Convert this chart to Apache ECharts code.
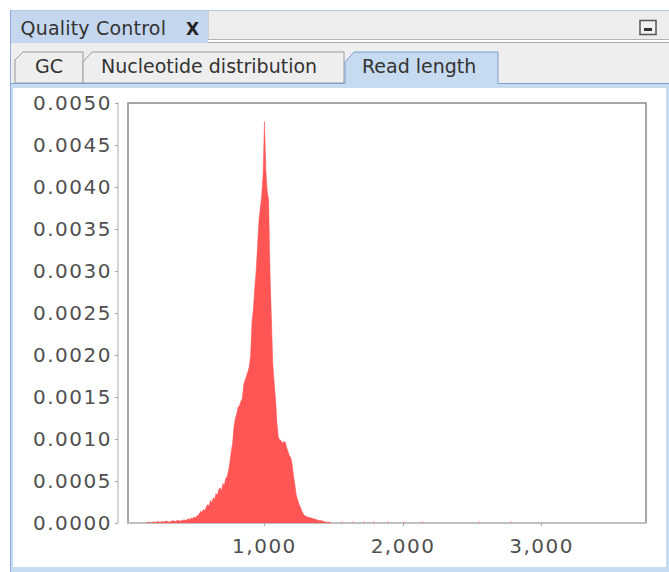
<!DOCTYPE html>
<html>
<head>
<meta charset="utf-8">
<script src="https://cdn.jsdelivr.net/npm/echarts@6/dist/echarts.min.js"></script>
<style>
  html, body { margin: 0; padding: 0; background: #fff; }
  #wrap { position: relative; width: 669px; height: 572px; overflow: hidden; }
  #chrome { position: absolute; left: 0; top: 0; }
  #chrome text { font-family: 'DejaVu Sans', sans-serif; }
  #rl_chart { position: absolute; left: 0; top: 0; width: 669px; height: 572px; }
  #rl_chart text { letter-spacing: 1.5px; }
</style>
</head>
<body>
<div id="wrap">
  <svg id="chrome" width="669" height="572">
    <!-- top view tab -->
    <rect x="10" y="10" width="198" height="33" fill="#c4d7ee"></rect>
    <rect x="208" y="11" width="461" height="28" fill="#ededed"></rect>
    <line x1="208.5" y1="11" x2="208.5" y2="39" stroke="#cfcfcf"></line>
    <line x1="10" y1="10.5" x2="669" y2="10.5" stroke="#b5c9e6"></line>
    <line x1="208" y1="39.5" x2="669" y2="39.5" stroke="#b4b4b4"></line>
    <line x1="208" y1="42.5" x2="669" y2="42.5" stroke="#a4a4a4"></line>
    <text x="20.5" y="35" font-size="19" fill="#333" letter-spacing="0.2">Quality Control</text>
    <text x="186" y="35" font-size="17" font-weight="bold" fill="#222">X</text>
    <!-- minimize button -->
    <rect x="640" y="20.5" width="16" height="14" fill="#f2f2f2" stroke="#555" stroke-width="1.5"></rect>
    <rect x="644" y="28" width="8" height="3" fill="#333"></rect>
    <!-- sub tabs row -->
    <rect x="11" y="43" width="658" height="41" fill="#eeeeee"></rect>
    <polygon points="15,83 15,60 23,52 83,52 83,83" fill="#eeeeee" stroke="#9a9a9a"></polygon>
    <polygon points="83,83 83,62 92,52 344,52 344,83" fill="#eeeeee" stroke="#9a9a9a"></polygon>
    <text x="35" y="73" font-size="19" fill="#333">GC</text>
    <text x="101" y="73" font-size="19" fill="#333">Nucleotide distribution</text>
    <!-- content border -->
    <line x1="11" y1="83.5" x2="669" y2="83.5" stroke="#7d9fd4"></line>
    <rect x="11" y="84" width="658" height="4" fill="#c8dcf1"></rect>
    <polygon points="345,84 345,62 354,52 498,52 498,84" fill="#c6daf0" stroke="#7d9fd4"></polygon>
    <rect x="345.5" y="83" width="152" height="5" fill="#c6daf0"></rect>
    <text x="362" y="73" font-size="19" fill="#333">Read length</text>
    <line x1="10.5" y1="10" x2="10.5" y2="572" stroke="#8eaade"></line>
    <rect x="11" y="88" width="2" height="484" fill="#c8dcf1"></rect>
    <rect x="666" y="84" width="3" height="488" fill="#c8dcf1"></rect>
    <rect x="11" y="567" width="658" height="5" fill="#c8dcf1"></rect>
  </svg>
  <div id="rl_chart"></div>
</div>
<script>
/************************************ 读长分布数据 *******************************/
var binStart = 150, binWidth = 10; // bp
// density per 10 bp bin, in units of 1e-5
var density = [
  0, 1, 1, 0, 1, 1, 1, 1, 2, 1,
  1, 2, 1, 2, 2, 2, 1, 2, 2, 3,
  2, 2, 3, 3, 2, 3, 3, 4, 3, 4,
  5, 4, 6, 5, 7, 6, 8, 9, 11, 14,
  13, 16, 15, 19, 22, 20, 27, 24, 30, 28,
  35, 33, 40, 42, 38, 47, 45, 53, 55, 62,
  72, 85, 95, 115, 125, 130, 138, 140, 145, 148,
  165, 170, 175, 180, 186, 200, 240, 255, 280, 300,
  330, 360, 375, 390, 415, 478, 420, 395, 385, 300,
  245, 190, 168, 148, 120, 102, 99, 98, 95, 97,
  96, 90, 85, 80, 78, 70, 56, 45, 33, 28,
  22, 19, 14, 11, 9, 8, 7, 7, 6, 6,
  5, 5, 4, 4, 3, 3, 3, 2, 2, 1,
  1, 1, 1, 0
];
// isolated long reads
var tailLen = [1560, 1640, 1720, 1790, 1890, 2010, 2140, 2550, 2780];
var tailVal = [1, 1, 1, 1, 1, 1, 1, 1, 1];
var xTicks = [1000, 2000, 3000];

var fontFam = "'DejaVu Sans', sans-serif";

var areaData = [];
for (var i = 0; i < density.length; i++) {
  areaData.push([binStart + i * binWidth, density[i] * 1e-5]);
}
var tailData = [];
for (var j = 0; j < tailLen.length; j++) {
  tailData.push([tailLen[j], tailVal[j] * 1e-5]);
}

var rl_chart = echarts.init(document.getElementById('rl_chart'), null, { renderer: 'svg' });
var option = {
  backgroundColor: 'transparent',
  animation: false,
  grid: {
    left: 128, top: 103, right: 23, bottom: 49,
    show: true, backgroundColor: '#fff', borderColor: '#8a8a8a', borderWidth: 1.5
  },
  xAxis: {
    type: 'value', min: 15, max: 3754, offset: 7,
    axisLine: { show: true, lineStyle: { color: '#c9c9c9', width: 1.5 } },
    axisTick: { show: true, length: 3, customValues: xTicks, lineStyle: { color: '#a8a8a8' } },
    axisLabel: {
      customValues: xTicks, fontSize: 20, color: '#505050', margin: 6, fontFamily: fontFam,
      formatter: function (v) { return v.toLocaleString('en-US'); }
    },
    splitLine: { show: false }
  },
  yAxis: {
    type: 'value', min: 0, max: 0.005, interval: 0.0005, offset: 10,
    axisLine: { show: true, lineStyle: { color: '#c9c9c9', width: 1.5 } },
    axisTick: { show: true, length: 3, lineStyle: { color: '#a8a8a8' } },
    axisLabel: {
      fontSize: 20, color: '#505050', margin: 6, fontFamily: fontFam,
      formatter: function (v) { return v.toFixed(4); }
    },
    splitLine: { show: false }
  },
  series: [
    {
      type: 'line', data: areaData, showSymbol: false, silent: true,
      lineStyle: { width: 0.5, color: '#ff5555' },
      areaStyle: { color: '#ff5555', opacity: 1 }
    },
    {
      type: 'scatter', data: tailData, symbol: 'rect', symbolSize: [1.5, 1.5], silent: true,
      itemStyle: { color: '#ff8888' }
    }
  ]
};
rl_chart.setOption(option);
</script>
</body>
</html>
